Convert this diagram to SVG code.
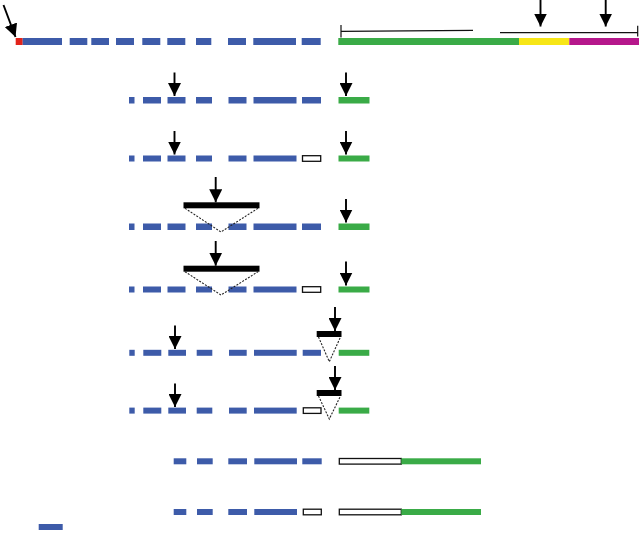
<svg xmlns="http://www.w3.org/2000/svg" width="642" height="534" viewBox="0 0 642 534">
<defs>
<style>
.b{fill:#3d5ba9}
.g{fill:#3aab47}
.w{fill:#ffffff;stroke:#111;stroke-width:1.3}
.k{fill:#000}
.ar{stroke:#000;stroke-width:1.9;fill:none}
.br{stroke:#111;stroke-width:1.2;fill:none}
.dt{stroke:#222;stroke-width:1.1;stroke-dasharray:2 1.4;fill:none}
</style>
<marker id="ah" viewBox="0 0 13 13" refX="13" refY="6.5" markerWidth="13" markerHeight="13" markerUnits="userSpaceOnUse" orient="auto">
<path d="M0,0 L13,6.5 L0,13 Z" fill="#000"/>
</marker>
</defs>
<rect width="642" height="534" fill="#fff"/>

<g id="row0">
<rect x="15.7" y="38" width="7" height="7" fill="#e2231a"/>
<rect class="b" x="22.7" y="38" width="39.3" height="7"/>
<rect class="b" x="69.7" y="38" width="17.6" height="7"/>
<rect class="b" x="91.3" y="38" width="17.7" height="7"/>
<rect class="b" x="116" y="38" width="18" height="7"/>
<rect class="b" x="142.3" y="38" width="18" height="7"/>
<rect class="b" x="167.3" y="38" width="18" height="7"/>
<rect class="b" x="196" y="38" width="15.3" height="7"/>
<rect class="b" x="228" y="38" width="18" height="7"/>
<rect class="b" x="253.3" y="38" width="42.7" height="7"/>
<rect class="b" x="301.7" y="38" width="19" height="7"/>
<rect class="g" x="338.3" y="38" width="180.7" height="7"/>
<rect x="519" y="38" width="50.3" height="7" fill="#f7e617"/>
<rect x="569.3" y="38" width="69.7" height="7" fill="#b5178b"/>
</g>

<g id="row1">
<rect class="b" x="129" y="97" width="5.5" height="6.5"/>
<rect class="b" x="143" y="97" width="18" height="6.5"/>
<rect class="b" x="167.5" y="97" width="18" height="6.5"/>
<rect class="b" x="196" y="97" width="16" height="6.5"/>
<rect class="b" x="228.5" y="97" width="18" height="6.5"/>
<rect class="b" x="253.5" y="97" width="43" height="6.5"/>
<rect class="b" x="302" y="97" width="19" height="6.5"/>
<rect class="g" x="338.5" y="97" width="31" height="6.5"/>
</g>

<g id="row2">
<rect class="b" x="129" y="155.5" width="5.5" height="6"/>
<rect class="b" x="143" y="155.5" width="18" height="6"/>
<rect class="b" x="167.5" y="155.5" width="18" height="6"/>
<rect class="b" x="196" y="155.5" width="16" height="6"/>
<rect class="b" x="228.5" y="155.5" width="18" height="6"/>
<rect class="b" x="253.5" y="155.5" width="43" height="6"/>
<rect class="w" x="302.5" y="155.7" width="18.2" height="5.6"/>
<rect class="g" x="338.5" y="155.5" width="31" height="6"/>
</g>

<g id="row3">
<rect class="b" x="129" y="223.5" width="5.5" height="6.5"/>
<rect class="b" x="143" y="223.5" width="18" height="6.5"/>
<rect class="b" x="167.5" y="223.5" width="18" height="6.5"/>
<rect class="b" x="196" y="223.5" width="16" height="6.5"/>
<rect class="b" x="228.5" y="223.5" width="18" height="6.5"/>
<rect class="b" x="253.5" y="223.5" width="43" height="6.5"/>
<rect class="b" x="302" y="223.5" width="19" height="6.5"/>
<rect class="g" x="338.5" y="223.5" width="31" height="6.5"/>
<rect class="k" x="183.5" y="202.3" width="76" height="6"/>
</g>

<g id="row4">
<rect class="b" x="129" y="286.5" width="5.5" height="6"/>
<rect class="b" x="143" y="286.5" width="18" height="6"/>
<rect class="b" x="167.5" y="286.5" width="18" height="6"/>
<rect class="b" x="196" y="286.5" width="16" height="6"/>
<rect class="b" x="228.5" y="286.5" width="18" height="6"/>
<rect class="b" x="253.5" y="286.5" width="43" height="6"/>
<rect class="w" x="302.5" y="286.7" width="18.2" height="5.6"/>
<rect class="g" x="338.5" y="286.5" width="31" height="6"/>
<rect class="k" x="183.5" y="265.7" width="76" height="6"/>
</g>

<g id="row5">
<rect class="b" x="129.3" y="349.8" width="5.4" height="6"/>
<rect class="b" x="143.3" y="349.8" width="18" height="6"/>
<rect class="b" x="168.3" y="349.8" width="17.7" height="6"/>
<rect class="b" x="196.7" y="349.8" width="15.6" height="6"/>
<rect class="b" x="229" y="349.8" width="17.7" height="6"/>
<rect class="b" x="254" y="349.8" width="42.7" height="6"/>
<rect class="b" x="302.7" y="349.8" width="18.3" height="6"/>
<rect class="g" x="338.7" y="349.8" width="30.6" height="6"/>
<rect class="k" x="316.7" y="331" width="24.8" height="6"/>
</g>

<g id="row6">
<rect class="b" x="129.3" y="407.6" width="5.4" height="6"/>
<rect class="b" x="143.3" y="407.6" width="18" height="6"/>
<rect class="b" x="168.3" y="407.6" width="17.7" height="6"/>
<rect class="b" x="196.7" y="407.6" width="15.6" height="6"/>
<rect class="b" x="229" y="407.6" width="17.7" height="6"/>
<rect class="b" x="254" y="407.6" width="42.7" height="6"/>
<rect class="w" x="303.3" y="407.8" width="17.7" height="5.6"/>
<rect class="g" x="338.7" y="407.6" width="30.6" height="6"/>
<rect class="k" x="316.7" y="390" width="24.8" height="6"/>
</g>

<g id="row7">
<rect class="b" x="173.7" y="458.3" width="12.6" height="6"/>
<rect class="b" x="197" y="458.3" width="15.7" height="6"/>
<rect class="b" x="228.3" y="458.3" width="18.7" height="6"/>
<rect class="b" x="254.3" y="458.3" width="42.7" height="6"/>
<rect class="b" x="302.3" y="458.3" width="19.4" height="6"/>
<rect class="w" x="339.3" y="458.5" width="62" height="5.6"/>
<rect class="g" x="401.3" y="458.3" width="79.7" height="6"/>
</g>

<g id="row8">
<rect class="b" x="173.7" y="509" width="12.6" height="6"/>
<rect class="b" x="197" y="509" width="15.7" height="6"/>
<rect class="b" x="228.3" y="509" width="18.7" height="6"/>
<rect class="b" x="254.3" y="509" width="42.7" height="6"/>
<rect class="w" x="303.3" y="509.2" width="18" height="5.6"/>
<rect class="w" x="339.3" y="509.2" width="62" height="5.6"/>
<rect class="g" x="401.3" y="509" width="79.7" height="6"/>
</g>

<g id="legend">
<rect class="b" x="38.7" y="524" width="24" height="6"/>
</g>

<g id="connectors">
<path class="br" d="M341,25 V37.5 M341,31.3 L473,30.3"/>
<path class="br" d="M500,32.7 H637.7 M637.7,25.7 V36.5"/>
<line class="ar" x1="3.5" y1="5" x2="15.5" y2="37" marker-end="url(#ah)"/>
<line class="ar" x1="540.5" y1="0" x2="540.5" y2="26.5" marker-end="url(#ah)"/>
<line class="ar" x1="605.7" y1="0" x2="605.7" y2="26.5" marker-end="url(#ah)"/>

<line class="ar" x1="174.5" y1="72.5" x2="174.5" y2="96" marker-end="url(#ah)"/>
<line class="ar" x1="346" y1="72.5" x2="346" y2="96" marker-end="url(#ah)"/>
<line class="ar" x1="174.5" y1="131" x2="174.5" y2="154.5" marker-end="url(#ah)"/>
<line class="ar" x1="346" y1="131" x2="346" y2="154.5" marker-end="url(#ah)"/>

<line class="ar" x1="215.7" y1="177" x2="215.7" y2="202.3" marker-end="url(#ah)"/>
<line class="ar" x1="346" y1="199" x2="346" y2="222.5" marker-end="url(#ah)"/>
<polyline class="dt" points="185,208.3 221,232 258,208.3"/>

<line class="ar" x1="215.7" y1="241" x2="215.7" y2="265.7" marker-end="url(#ah)"/>
<line class="ar" x1="346" y1="261.5" x2="346" y2="285.5" marker-end="url(#ah)"/>
<polyline class="dt" points="185,271.7 221,295 258,271.7"/>

<line class="ar" x1="175" y1="325.5" x2="175" y2="349" marker-end="url(#ah)"/>
<line class="ar" x1="335" y1="307" x2="335" y2="331" marker-end="url(#ah)"/>
<polyline class="dt" points="318.5,337 329.3,361.7 340.5,337"/>

<line class="ar" x1="175" y1="383.5" x2="175" y2="407" marker-end="url(#ah)"/>
<line class="ar" x1="335" y1="366" x2="335" y2="390" marker-end="url(#ah)"/>
<polyline class="dt" points="318.5,396 329.3,419 340.5,396"/>
</g>
</svg>
